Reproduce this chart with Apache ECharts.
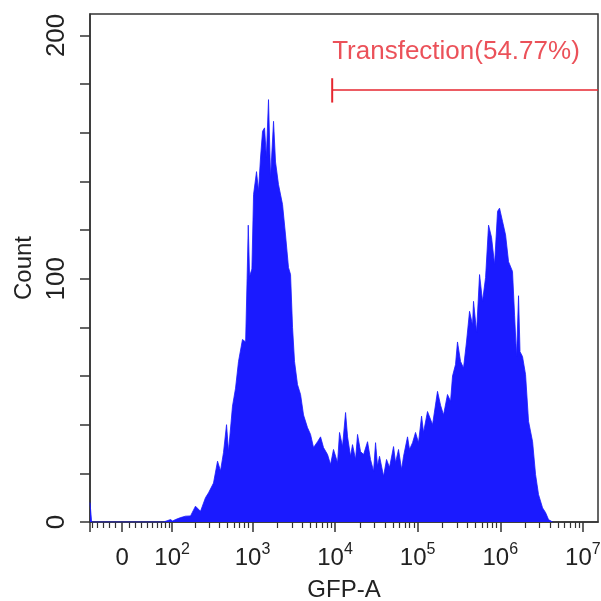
<!DOCTYPE html>
<html>
<head>
<meta charset="utf-8">
<script src="https://cdn.jsdelivr.net/npm/echarts@6/dist/echarts.min.js"></script>
<style>
html,body{margin:0;padding:0;background:#fff;}
#chart{width:601px;height:601px;}
</style>
</head>
<body>
<div id="chart"></div>
<script>
// ---- data (x in display channels: 100 channels per decade, biexponential scale) ----
const binCenters = [-39, -37.6, -37, 50, 52.4, 58.5, 61, 64.5, 70.6, 76.6, 82.7, 88.7, 94.8, 100.8, 104.5, 110.5, 115.4, 119.0, 122.6, 126.3, 128.7, 133.5, 137.2, 140.8, 145.6, 149.4, 151.2, 152.6, 154.2, 157, 159, 162.6, 165, 167.5, 169.9, 172.3, 174.5, 177.1, 179.6, 183.2, 185.6, 189.2, 194.1, 197.7, 201.3, 203.8, 206.2, 208.6, 212.2, 215.9, 219.5, 224.3, 228.0, 231.6, 236.5, 240.1, 243.7, 248.6, 252.2, 255.8, 260.7, 263.1, 266.7, 270.4, 272.8, 276.4, 278.8, 282.5, 284.9, 288.5, 292.2, 297.0, 300.6, 304.3, 306.7, 309.1, 311.5, 316.4, 320.0, 323.6, 328.5, 330.9, 334.5, 338.2, 340.6, 345.4, 347.8, 351.5, 355.1, 358.7, 362.4, 364.8, 369.6, 375.7, 381.7, 385.4, 389.0, 393.8, 397.5, 399.9, 403.5, 405.9, 409.6, 413.2, 416.8, 420.5, 424.1, 425.3, 429.0, 432.6, 436.2, 439.9, 443.5, 447.1, 450.8, 454.4, 456.8, 460.4, 464.1, 467.7, 472.5, 475.0, 477.4, 479.8, 481.6, 484.6, 488.3, 491.9, 496.8, 500.4, 504.0, 508.9, 512.5, 516.1, 521.0];
const counts = [8, 8, 0, 0, 0.8, 1.0, 0.4, 1.0, 1.8, 2.4, 2.5, 6.5, 4.4, 10, 12, 16, 25, 21, 28.5, 40, 29, 47.6, 55, 66, 75, 74, 100, 122, 101, 104, 134.6, 144, 136, 150, 160.6, 162, 150, 173.6, 141.6, 164.7, 148, 138.7, 130.5, 118, 104.6, 101.7, 80, 66, 56.5, 52.4, 44, 38.8, 36, 30.6, 33, 35, 30.6, 27.7, 23.6, 29.8, 24.4, 36.8, 31, 45, 35, 27, 31.8, 25.7, 36, 29, 27.7, 33, 25.7, 20.9, 32.6, 23, 27, 18.8, 25.7, 22.4, 31, 24.4, 29.8, 21.6, 27, 35, 29.8, 32.6, 36.8, 32.6, 43.5, 36.8, 45.4, 40, 53.7, 48, 44, 52.4, 49.6, 60, 64.7, 74, 66, 63.3, 74, 86.6, 81, 90.7, 78, 101.7, 90.7, 100.5, 122, 117, 105.8, 127.7, 129, 123.6, 118, 107, 103, 85, 68, 93, 70, 68, 60.6, 41.4, 33, 19.5, 11.3, 5.8, 3.9, 1, 0];

const majorTickValues = [0, 1e2, 1e3, 1e4, 1e5, 1e6, 1e7];
const majorTickLabels = ['0', '10{s|2}', '10{s|3}', '10{s|4}', '10{s|5}', '10{s|6}', '10{s|7}'];
const negMinorValues = [-10, -20, -30, -40, -50];
const linMinorValues = [10, 20, 30, 40, 50, 60, 70, 80, 90];
const decadeMultipliers = [2, 3, 4, 5, 6, 7, 8, 9];
const decadeBases = [1e2, 1e3, 1e4, 1e5, 1e6];
const yTickLabels = [0, 100, 200];

const gateStart = 254.2, gateEnd = 576, gateLevel = 177.6, gateTickLow = 172.4, gateTickHigh = 182.4;
const gateText = 'Transfection(54.77%)';
const gateTextLevel = 193.3;

// ---- scale ----
const W = 53;
const T = v => 100 * Math.asinh(v / W) / Math.LN10;
const xMin = -39, xMax = 576;
const yMax = 208.8;

const majorPos = majorTickValues.map(T);
const minorPos = [];
negMinorValues.forEach(v => { const p = T(v); if (p >= xMin) minorPos.push(p); });
linMinorValues.forEach(v => minorPos.push(T(v)));
decadeBases.forEach(b => decadeMultipliers.forEach(m => minorPos.push(T(b * m))));

const seriesData = binCenters.map((x, i) => [x, counts[i]]);

const FONT = 'Liberation Sans, Arial, sans-serif';
const RED = '#e6262f';
const chart = echarts.init(document.getElementById('chart'));
chart.setOption({
  animation: false,
  backgroundColor: '#fff',
  grid: { left: 90, right: 3, top: 14, bottom: 79, show: true, borderColor: '#333', borderWidth: 1.5, containLabel: false, outerBoundsMode: 'none' },
  xAxis: [{
    type: 'value', min: xMin, max: xMax,
    name: 'GFP-A', nameLocation: 'middle', nameGap: 56,
    nameTextStyle: { fontSize: 24, fontFamily: FONT, color: '#222' },
    axisLine: { show: true, onZero: false, lineStyle: { color: '#333', width: 1.5 } },
    axisTick: { show: true, length: 10, customValues: [xMin].concat(majorPos), lineStyle: { color: '#333', width: 1.5 } },
    axisLabel: {
      show: true, margin: 20, customValues: majorPos, color: '#222', hideOverlap: false,
      formatter: function (val) {
        for (let i = 0; i < majorPos.length; i++) {
          if (Math.abs(majorPos[i] - val) < 0.01) return '{b|' + majorTickLabels[i].replace(/^(10)(\{)/, '10}$2').replace(/^0$/, '0}');
        }
        return '';
      },
      rich: {
        b: { fontSize: 24, fontFamily: FONT, color: '#222', lineHeight: 28, verticalAlign: 'bottom' },
        s: { fontSize: 16, fontFamily: FONT, color: '#222', lineHeight: 16, verticalAlign: 'top' }
      }
    },
    splitLine: { show: false }
  }, {
    type: 'value', min: xMin, max: xMax, position: 'bottom',
    axisLine: { show: false, onZero: false },
    axisTick: { show: true, length: 6, customValues: minorPos, lineStyle: { color: '#333', width: 1.2 } },
    axisLabel: { show: false },
    splitLine: { show: false }
  }],
  yAxis: {
    type: 'value', min: 0, max: yMax, interval: 20,
    name: 'Count', nameLocation: 'middle', nameGap: 54, nameRotate: 90,
    nameTextStyle: { fontSize: 24, fontFamily: FONT, color: '#222' },
    axisLine: { show: true, onZero: false, lineStyle: { color: '#333', width: 1.5 } },
    axisTick: { show: true, length: 10, lineStyle: { color: '#333', width: 1.5 } },
    axisLabel: {
      show: true, rotate: 90, margin: 20, fontSize: 26, fontFamily: FONT, color: '#222',
      showMaxLabel: false,
      formatter: v => (yTickLabels.indexOf(v) >= 0 ? String(v) : '')
    },
    splitLine: { show: false }
  },
  series: [{
    type: 'line', xAxisIndex: 0, data: seriesData,
    showSymbol: false, symbol: 'none', smooth: false,
    lineStyle: { color: '#1a1aff', width: 0.8 },
    areaStyle: { color: '#1a1aff', opacity: 1 },
    z: 2
  }, {
    type: 'line', xAxisIndex: 0, data: [[gateStart, gateLevel], [gateEnd, gateLevel]],
    showSymbol: false, symbol: 'none', lineStyle: { color: RED, width: 1.5 }, z: 3
  }, {
    type: 'line', xAxisIndex: 0, data: [[gateStart, gateTickLow], [gateStart, gateTickHigh]],
    showSymbol: false, symbol: 'none', lineStyle: { color: RED, width: 2 }, z: 3
  }, {
    type: 'scatter', xAxisIndex: 0, data: [[gateStart, gateTextLevel]], symbolSize: 0,
    label: { show: true, position: 'right', distance: 0, formatter: gateText, fontSize: 26, fontFamily: FONT, color: RED },
    z: 4
  }]
});
</script>
</body>
</html>
